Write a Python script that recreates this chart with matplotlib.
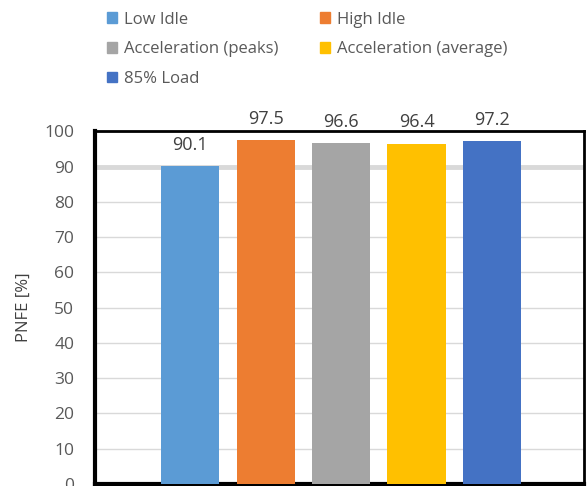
import matplotlib.pyplot as plt
from matplotlib.patches import Patch

plt.rcParams['font.family'] = ['Open Sans', 'DejaVu Sans']

# Datos
modos = ["Low Idle", "High Idle", "Acceleration (peaks)", "Acceleration (average)", "85% Load"]
pnfe = [90.1, 97.5, 96.6, 96.4, 97.2]
colores = ["#5B9BD5", "#ED7D31", "#A5A5A5", "#FFC000", "#4472C4"]
yticks = list(range(0, 101, 10))

fig = plt.figure(figsize=(5.87, 4.86), dpi=100)
ax = fig.add_axes([0.162, 0.004, 0.833, 0.726])

x = list(range(len(modos)))
barras = ax.bar(x, pnfe, width=0.77, color=colores, zorder=3)

for xi, v in zip(x, pnfe):
    ax.annotate(f"{v}", (xi, v), xytext=(0, 9), textcoords="offset points",
                ha="center", va="bottom", fontsize=13, color="#404040")

ax.set_xlim(-1.26, 5.22)
ax.set_ylim(0, 100)
ax.set_yticks(yticks)
ax.set_xticks([])
ax.tick_params(axis="y", length=0, labelsize=12.5, labelcolor="#595959", pad=15)

# rejilla: la de 90 mas gruesa
for t in yticks:
    if t == 90:
        ax.axhline(t, color="#D9D9D9", lw=3.5, zorder=1)
    else:
        ax.axhline(t, color="#D9D9D9", lw=1, zorder=1)

for lado, ancho in [("left", 3), ("top", 2), ("right", 2), ("bottom", 3)]:
    ax.spines[lado].set_color("black")
    ax.spines[lado].set_linewidth(ancho)

ax.set_ylabel("PNFE [%]", fontsize=12, color="#404040", labelpad=9)

# leyenda en dos columnas, orden por filas
orden = [0, 2, 4, 1, 3]
handles = [Patch(color=colores[i]) for i in orden]
labels = [modos[i] for i in orden]
fig.legend(handles, labels, ncol=2, loc="upper left", bbox_to_anchor=(0.163, 1.0),
           frameon=False, fontsize=12, labelcolor="#595959",
           handlelength=0.6, handleheight=0.6, handletextpad=0.4,
           labelspacing=0.82, columnspacing=2.5, borderaxespad=0.3)

plt.savefig("out.png")
